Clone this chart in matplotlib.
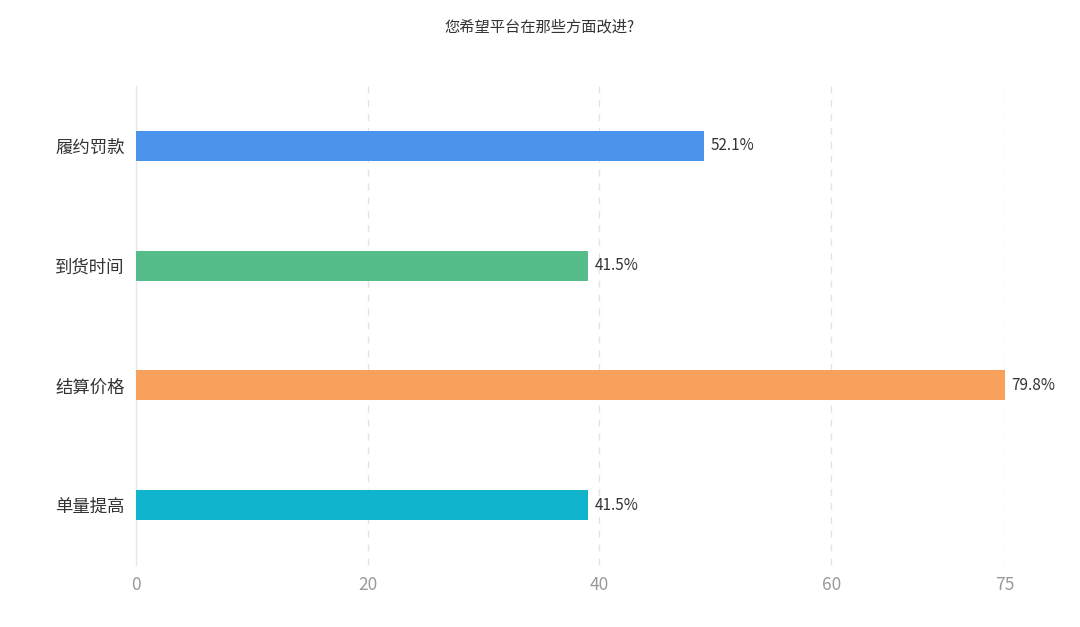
import matplotlib
matplotlib.use("Agg")
import matplotlib.pyplot as plt

plt.rcParams['font.family'] = ['Noto Sans CJK SC', 'DejaVu Sans']

title = "您希望平台在那些方面改进?"
categories = ["履约罚款", "到货时间", "结算价格", "单量提高"]
counts = [49, 39, 75, 39]
pct_labels = ["52.1%", "41.5%", "79.8%", "41.5%"]
colors = ["#4C93EE", "#55BD89", "#F7A15C", "#10B4CD"]
xticks = [0, 20, 40, 60, 75]

fig = plt.figure(figsize=(10.8, 6.27), dpi=100)
ax = fig.add_axes([136/1080, 1-565/627, (1005-136)/1080, (565-86)/627])

ypos = list(range(len(categories)))
ax.barh(ypos, counts, height=0.25, color=colors, zorder=3)
for y, c, lab in zip(ypos, counts, pct_labels):
    ax.text(c + 0.55, y, lab, va='center', ha='left', fontsize=11, color='#333333')

ax.set_xlim(0, 75)
ax.set_ylim(3.5, -0.5)
ax.set_yticks(ypos)
ax.set_yticklabels(categories, fontsize=12.5, color='#333333')
ax.set_xticks(xticks)
ax.set_xticklabels([str(t) for t in xticks], fontsize=12.5, color='#999999')
ax.tick_params(axis='both', length=0)
ax.tick_params(axis='y', pad=8)
ax.tick_params(axis='x', pad=8)

for s in ['top', 'right', 'bottom']:
    ax.spines[s].set_visible(False)
ax.spines['left'].set_color('#e6e6e6')
ax.spines['left'].set_linewidth(1)

for t in xticks[1:]:
    ax.axvline(t, color='#e3e3e3', linestyle=(0, (5, 5)), linewidth=1, zorder=1)

fig.text(0.5, 1-27/627, title, ha='center', va='center', fontsize=11, color='#333333')

fig.savefig("out.png", dpi=100)
